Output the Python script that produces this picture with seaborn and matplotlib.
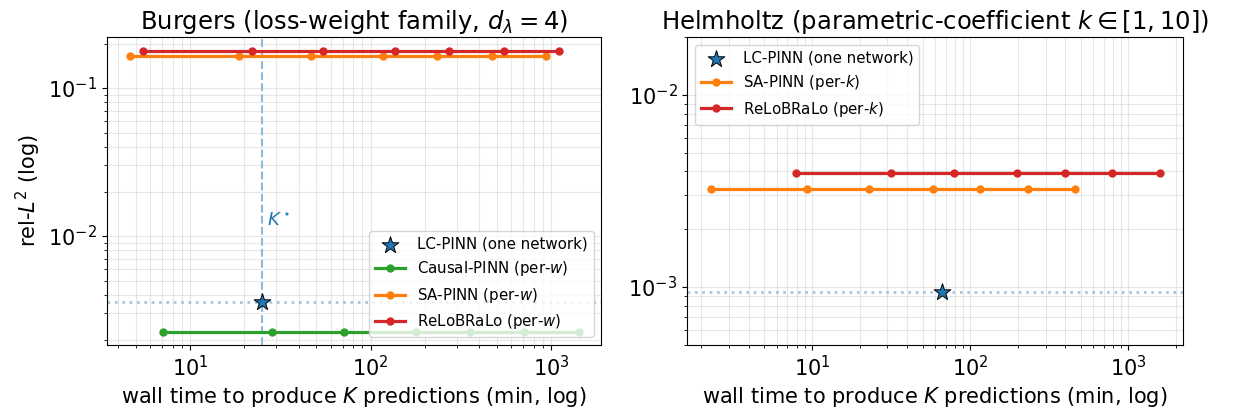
import matplotlib
matplotlib.use("Agg")
import matplotlib.pyplot as plt
import seaborn as sns
import numpy as np

# ---- Burgers data ----
burg_lc_time = [25.0]
burg_lc_err = [0.0036]
burg_causal_time = [7.1, 28.6, 71.6, 178.6, 355, 711, 1422]
burg_causal_err = [0.00225] * 7
burg_sa_time = [4.65, 18.7, 46.6, 117, 233, 469, 938]
burg_sa_err = [0.165] * 7
burg_relo_time = [5.47, 22.0, 54.7, 136.7, 273, 549, 1104]
burg_relo_err = [0.178] * 7
burg_kstar = 25.0

# ---- Helmholtz data ----
helm_lc_time = [66.0]
helm_lc_err = [0.000945]
helm_sa_time = [2.31, 9.25, 23.1, 58.1, 115.6, 231, 462]
helm_sa_err = [0.00324] * 7
helm_relo_time = [7.92, 31.5, 79.3, 198, 396, 792, 1585]
helm_relo_err = [0.00391] * 7

fig = plt.figure(figsize=(12.37, 4.17), dpi=100)
ax1 = fig.add_axes([0.0865, 0.173, 0.3995, 0.738])
ax2 = fig.add_axes([0.5555, 0.173, 0.4009, 0.738])

def star(ax, x, y, label):
    sns.scatterplot(x=x, y=y, ax=ax, marker="*", s=160, color="tab:blue",
                    edgecolor="black", linewidth=0.7, zorder=5, label=label)

def line(ax, x, y, color, label):
    sns.lineplot(x=x, y=y, ax=ax, color=color, marker="o", markersize=6,
                 markeredgewidth=0, linewidth=2.3, label=label, sort=False, zorder=3)

# Left panel
star(ax1, burg_lc_time, burg_lc_err, "LC-PINN (one network)")
line(ax1, burg_causal_time, burg_causal_err, "tab:green", "Causal-PINN (per-$w$)")
line(ax1, burg_sa_time, burg_sa_err, "tab:orange", "SA-PINN (per-$w$)")
line(ax1, burg_relo_time, burg_relo_err, "tab:red", "ReLoBRaLo (per-$w$)")
ax1.axvline(burg_kstar, color="tab:blue", ls="--", alpha=0.5, lw=1.5, zorder=1)
ax1.axhline(burg_lc_err[0], color="tab:blue", ls=":", alpha=0.4, lw=2, zorder=1)
ax1.text(burg_kstar * 1.07, 0.0118, r"$K^\star$", color="tab:blue", fontsize=13)
ax1.set_xscale("log"); ax1.set_yscale("log")
ax1.set_xlim(3.47, 1893); ax1.set_ylim(0.00184, 0.221)
ax1.set_title(r"Burgers (loss-weight family, $d_\lambda = 4$)", fontsize=17.5)
ax1.set_xlabel(r"wall time to produce $K$ predictions (min, log)", fontsize=15)
ax1.set_ylabel(r"rel-$L^2$ (log)", fontsize=15)
ax1.legend(loc="lower right", fontsize=10.8)

# Right panel
star(ax2, helm_lc_time, helm_lc_err, "LC-PINN (one network)")
line(ax2, helm_sa_time, helm_sa_err, "tab:orange", "SA-PINN (per-$k$)")
line(ax2, helm_relo_time, helm_relo_err, "tab:red", "ReLoBRaLo (per-$k$)")
ax2.axhline(helm_lc_err[0], color="tab:blue", ls=":", alpha=0.4, lw=2, zorder=1)
ax2.set_xscale("log"); ax2.set_yscale("log")
ax2.set_xlim(1.63, 2213); ax2.set_ylim(0.0005, 0.02)
ax2.set_title(r"Helmholtz (parametric-coefficient $k \in [1, 10]$)", fontsize=17.5)
ax2.set_xlabel(r"wall time to produce $K$ predictions (min, log)", fontsize=15)
ax2.set_ylabel("")
ax2.legend(loc="upper left", fontsize=10.8)

for ax in (ax1, ax2):
    ax.grid(True, which="both", alpha=0.3)
    ax.tick_params(axis="both", which="major", labelsize=15)

fig.savefig("out.png", dpi=100)
